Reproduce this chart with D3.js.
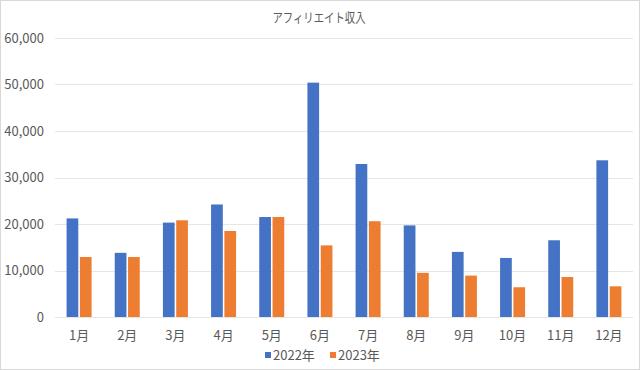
<!DOCTYPE html>
<html>
<head>
<meta charset="utf-8">
<script src="https://cdn.jsdelivr.net/npm/d3@7"></script>
<style>
  body { margin: 0; background: #fff; }
  svg text { font-family: "Noto Sans CJK JP", "Noto Sans", sans-serif; fill: #595959; }
</style>
</head>
<body>
<svg id="chart" width="640" height="370"></svg>
<script>
const months = ["1月", "2月", "3月", "4月", "5月", "6月", "7月", "8月", "9月", "10月", "11月", "12月"];
const series = ["2022年", "2023年"];
const values2022 = [21200, 13800, 20300, 24200, 21500, 50400, 32900, 19700, 14000, 12700, 16500, 33700];
const values2023 = [12900, 12900, 20800, 18500, 21500, 15400, 20600, 9500, 8900, 6400, 8600, 6600];
const yTicks = [0, 10000, 20000, 30000, 40000, 50000, 60000];
const colors = ["#4472C4", "#ED7D31"];

var svg = d3.select("#chart"),
    width = +svg.attr("width"),
    height = +svg.attr("height");

var margin = {top: 38, right: 7, bottom: 53, left: 55};

// chart border
svg.append("rect")
    .attr("x", 0.5).attr("y", 0.5)
    .attr("width", width - 1).attr("height", height - 1)
    .attr("fill", "none").attr("stroke", "#d9d9d9");

var x = d3.scaleBand()
    .domain(months)
    .range([margin.left, width - margin.right]);

var xInner = d3.scaleBand()
    .domain(series)
    .range([0, 25])
    .paddingInner(0.12);

var y = d3.scaleLinear()
    .domain([0, 60000])
    .range([height - margin.bottom, margin.top]);

// gridlines
svg.append("g")
    .selectAll("line")
    .data(yTicks)
    .enter().append("line")
    .attr("x1", margin.left)
    .attr("x2", width - margin.right)
    .attr("y1", function (d) { return Math.round(y(d)) + 0.5; })
    .attr("y2", function (d) { return Math.round(y(d)) + 0.5; })
    .attr("stroke", "#e6e6e6");

// y labels
svg.append("g")
    .selectAll("text")
    .data(yTicks)
    .enter().append("text")
    .attr("x", 44)
    .attr("y", function (d) { return y(d); })
    .attr("dy", "0.35em")
    .attr("text-anchor", "end")
    .style("font-size", "13px")
    .text(function (d) { return d3.format(",")(d); });

// bars
var data = months.map(function (m, i) {
    return {month: m, vals: [values2022[i], values2023[i]]};
});

var group = svg.append("g")
    .selectAll("g")
    .data(data)
    .enter().append("g")
    .attr("transform", function (d) {
        return "translate(" + (x(d.month) + x.bandwidth() / 2 - 12.5) + ",0)";
    });

group.selectAll("rect")
    .data(function (d) {
        return d.vals.map(function (v, j) { return {s: series[j], v: v, c: colors[j]}; });
    })
    .enter().append("rect")
    .attr("x", function (d) { return xInner(d.s); })
    .attr("width", xInner.bandwidth())
    .attr("y", function (d) { return y(d.v); })
    .attr("height", function (d) { return y(0) - y(d.v); })
    .attr("fill", function (d) { return d.c; });

// x labels
svg.append("g")
    .selectAll("text")
    .data(months)
    .enter().append("text")
    .attr("x", function (d) { return x(d) + x.bandwidth() / 2; })
    .attr("y", 335)
    .attr("dy", "0.35em")
    .attr("text-anchor", "middle")
    .style("font-size", "13px")
    .text(function (d) { return d; });

// title
svg.append("text")
    .attr("x", 319)
    .attr("y", 17)
    .attr("dy", "0.35em")
    .attr("text-anchor", "middle")
    .attr("textLength", 93)
    .attr("lengthAdjust", "spacingAndGlyphs")
    .style("font-size", "13px")
    .text("アフィリエイト収入");

// legend
var legendX = [265, 330];
var legend = svg.append("g")
    .selectAll("g")
    .data(series)
    .enter().append("g")
    .attr("transform", function (d, i) { return "translate(" + legendX[i] + ",355)"; });

legend.append("rect")
    .attr("x", 0).attr("y", -3)
    .attr("width", 6).attr("height", 6)
    .attr("fill", function (d, i) { return colors[i]; });

legend.append("text")
    .attr("x", 8)
    .attr("y", 0)
    .attr("dy", "0.35em")
    .style("font-size", "13px")
    .text(function (d) { return d; });
</script>
</body>
</html>
